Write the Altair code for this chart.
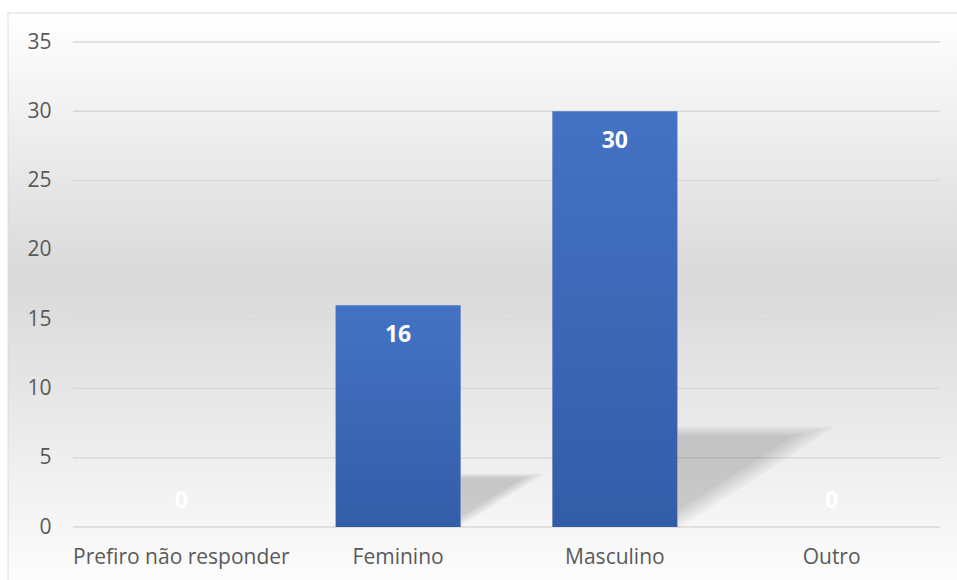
import altair as alt
import pandas as pd

# Survey answers: gender of respondents
categories = ["Prefiro não responder", "Feminino", "Masculino", "Outro"]
counts = [0, 16, 30, 0]
y_ticks = [0, 5, 10, 15, 20, 25, 30, 35]

W, H = 867, 485
FONT = "Open Sans"
PAD_IN = 0.423

df = pd.DataFrame({"cat": categories, "n": counts})
ticks_df = pd.DataFrame({"tick": y_ticks})

y_axis = alt.Axis(
    title=None, values=y_ticks, grid=False, domain=False, ticks=False,
    labelFont=FONT, labelFontSize=21, labelColor="#595959", labelPadding=22,
    zindex=1,
)
y_scale = alt.Scale(domain=[0, 35], nice=False, zero=True)

x_enc = alt.X(
    "cat:N", sort=categories, title=None,
    scale=alt.Scale(paddingInner=PAD_IN, paddingOuter=PAD_IN / 2),
    axis=alt.Axis(
        labelAngle=0, domain=False, ticks=False, grid=False,
        labelFont=FONT, labelFontSize=21, labelColor="#595959",
        labelPadding=19, labelLimit=0, zindex=1,
    ),
)

# chart area background with a soft vertical gradient and thin border
background = alt.Chart(pd.DataFrame({"a": [0]})).mark_rect(
    fill=alt.Gradient(
        gradient="linear", x1=0, x2=0, y1=0, y2=1,
        stops=[
            alt.GradientStop(offset=0.0, color="#ffffff"),
            alt.GradientStop(offset=0.45, color="#d9d9d9"),
            alt.GradientStop(offset=1.0, color="#ffffff"),
        ],
    ),
    stroke="#d9d9d9", strokeWidth=1,
).encode(
    x=alt.value(-65), x2=alt.value(W + 40),
    y=alt.value(-29), y2=alt.value(H + 75),
)

grid = alt.Chart(ticks_df).mark_rule(color="#d9d9d9", strokeWidth=1.4).encode(
    y=alt.Y("tick:Q", scale=y_scale, axis=y_axis, title=None),
    x=alt.value(0), x2=alt.value(W),
)

# ground shadow cast to the right of each bar: a triangle from the bar's
# base corner to a tip up and to the right; stacked copies shrunk towards
# the bar's edge give it a soft outline
shadow_x_scale = alt.Scale(domain=[0, 4], nice=False, zero=False)


def shadow_layer(s):
    return alt.Chart(df).transform_window(
        idx="row_number()"
    ).transform_filter(
        "datum.n > 0"
    ).transform_calculate(
        p0="0", p1="1"
    ).transform_fold(
        ["p0", "p1"], as_=["which", "pts"]
    ).transform_calculate(
        xr=f"datum.idx - 0.5 + {(1 - PAD_IN) / 2}",
        dx="0.022 * datum.n",
        h="0.234 * datum.n",
    ).transform_calculate(
        gy="(0.3 + 2 * datum.h) / 3",
    ).transform_calculate(
        sx=f"datum.xr + {s} * datum.pts * datum.dx",
        top=f"datum.gy + {s} * (datum.h - datum.gy)",
        bot=f"datum.pts == 0 ? datum.gy + {s} * (0.3 - datum.gy) "
            f": datum.gy + {s} * (datum.h - datum.gy)",
    ).mark_area(
        color="#000000", fillOpacity=0.036,
    ).encode(
        x=alt.X("sx:Q", scale=shadow_x_scale, axis=None),
        y=alt.Y("top:Q", scale=y_scale, axis=y_axis, title=None, stack=None),
        y2="bot:Q",
        detail="cat:N",
    )


shadows = [shadow_layer(s) for s in (1.1, 1.03, 0.96, 0.89, 0.82)]

bars = alt.Chart(df).mark_bar(
    fill=alt.Gradient(
        gradient="linear", x1=0, x2=0, y1=0, y2=1,
        stops=[
            alt.GradientStop(offset=0.0, color="#4472c4"),
            alt.GradientStop(offset=1.0, color="#345da8"),
        ],
    ),
).encode(
    x=x_enc,
    y=alt.Y("n:Q", scale=y_scale, axis=y_axis, title=None),
)

label_style = dict(
    font=FONT, fontSize=23, fontWeight="bold", color="#ffffff",
    align="center", baseline="middle",
)
labels = alt.Chart(df).transform_filter("datum.n > 0").mark_text(
    dy=30, **label_style
).encode(
    x=x_enc,
    y=alt.Y("n:Q", scale=y_scale, axis=y_axis, title=None),
    text="n:Q",
)
zero_labels = alt.Chart(df).transform_filter("datum.n == 0").mark_text(
    dy=-26, **label_style
).encode(
    x=x_enc,
    y=alt.Y("n:Q", scale=y_scale, axis=y_axis, title=None),
    text="n:Q",
)

bar_group = alt.layer(bars, labels, zero_labels)

chart = alt.layer(
    background, grid, *shadows, bar_group
).resolve_scale(
    x="independent"
).properties(
    width=W, height=H,
    autosize=alt.AutoSizeParams(type="none"),
    padding={"left": 73, "top": 42, "right": 17, "bottom": 53},
    background="#ffffff",
).configure_view(stroke=None)

chart.save("out.html", embed_options={"renderer": "svg", "actions": False})
